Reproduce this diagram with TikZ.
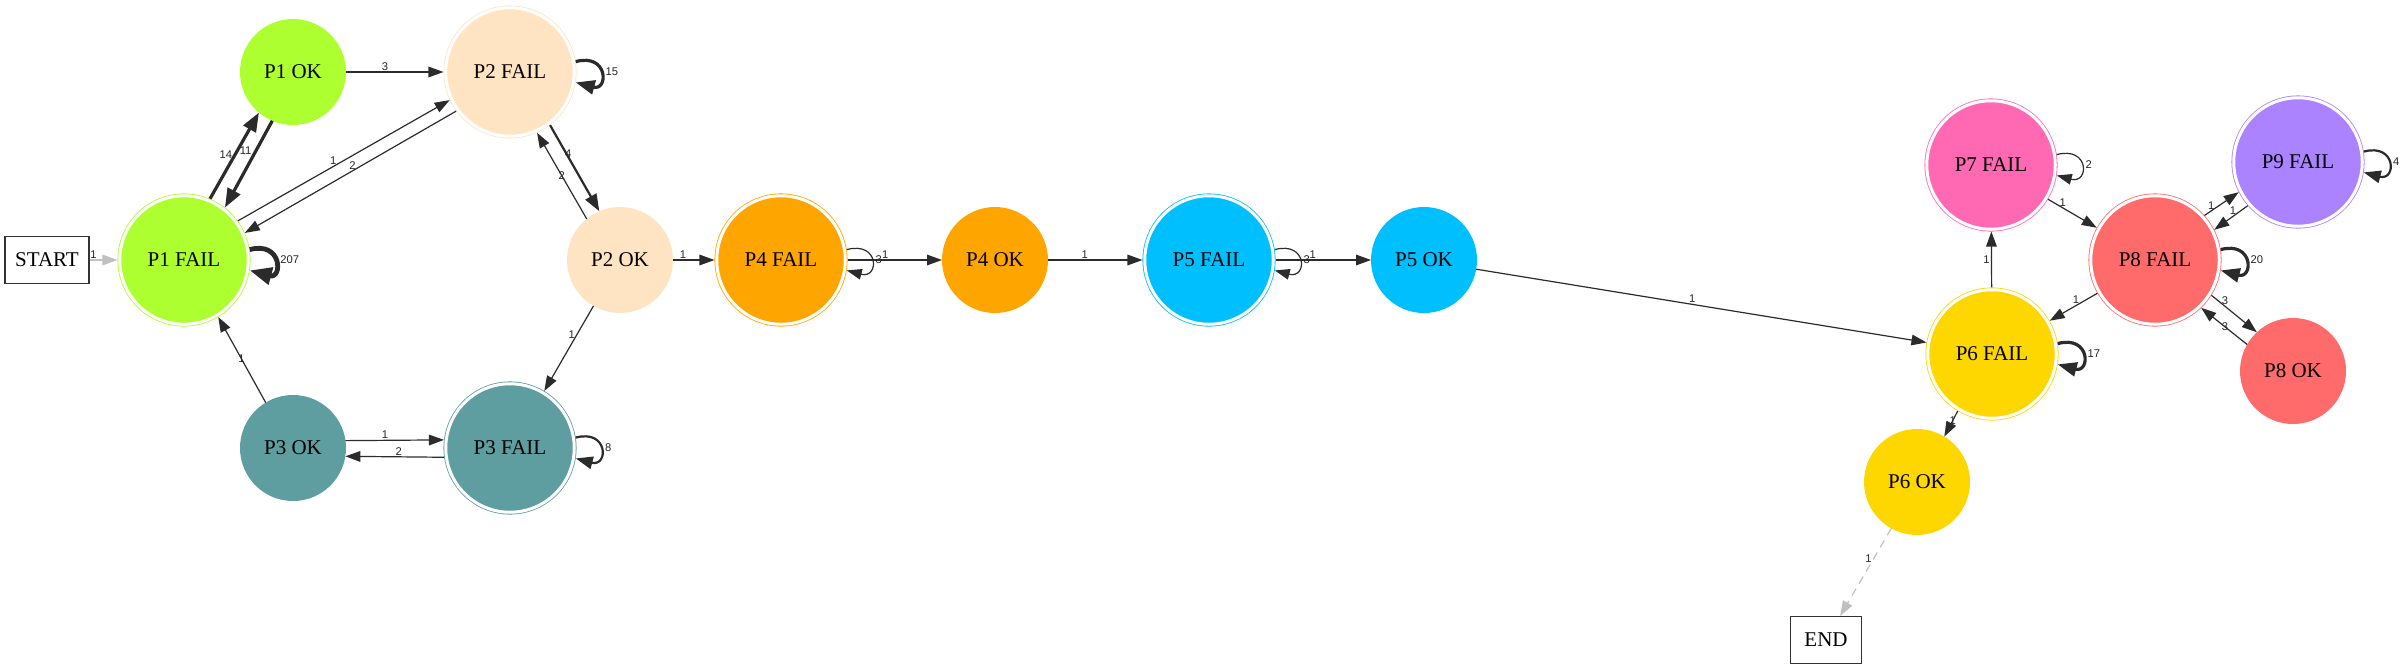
\documentclass[tikz,border=0pt]{standalone}
\usepackage{fontspec}
\setmainfont{Liberation Serif}
\newfontfamily\lblfont{Liberation Sans}
\usetikzlibrary{arrows.meta}

\definecolor{p1col}{HTML}{ADFF2F}
\definecolor{p2col}{HTML}{FFE4C4}
\definecolor{p3col}{HTML}{5F9EA0}
\definecolor{p4col}{HTML}{FFA500}
\definecolor{p5col}{HTML}{00BFFF}
\definecolor{p6col}{HTML}{FFD700}
\definecolor{p7col}{HTML}{FF69B4}
\definecolor{p8col}{HTML}{FF6A6A}
\definecolor{p9col}{HTML}{AB82FF}
\definecolor{edgecol}{HTML}{2B2B2B}
\definecolor{termcol}{HTML}{C0C0C0}

\tikzset{
	okstate/.style={circle, fill=#1, inner sep=0pt, outer sep=0pt, minimum size=53pt, font=\fontsize{10.5}{12}\selectfont},
	failstate/.style={circle, fill=#1, draw=#1, line width=0.4pt, double=white, double distance=1.5pt, inner sep=0pt, outer sep=1.15pt, minimum size=64.25pt, font=\fontsize{10.5}{12}\selectfont},
	termbox/.style={rectangle, draw=black!80, line width=0.6pt, minimum width=#1, minimum height=23.5pt, inner sep=0pt, font=\fontsize{10.5}{12}\selectfont},
	lbl/.style={font=\lblfont\fontsize{5.6}{6.5}\selectfont, text=black!85, inner sep=0.6pt},
	lightedge/.style={draw=edgecol, line width=0.6pt, -{Triangle[length=7.5pt,width=5.3pt]}},
	midedge/.style={draw=edgecol, line width=1.1pt, -{Triangle[length=8.5pt,width=6.2pt]}},
	boldedge/.style={draw=edgecol, line width=1.6pt, -{Triangle[length=9.5pt,width=7pt]}},
	heavyedge/.style={draw=edgecol, line width=2.4pt, -{Triangle[length=11pt,width=8.5pt]}},
	termedge/.style={draw=termcol, line width=0.6pt, -{Triangle[length=7.5pt,width=5.3pt]}},
}

\newcommand{\selfloop}[3] % node, count, edge style
{
	\draw[#3] (#1.9) to[out=15, in=-15, distance=17pt] node[lbl, right=1.2pt] {#2} (#1.-9);
}

\begin{document}
\begin{tikzpicture}[x=0.5pt, y=-0.5pt]
	\useasboundingbox (0,0) rectangle (2400,670);
	% states
	\node[termbox=42pt] (startbox) at (47,260) {START};
	\node[failstate=p1col] (p1fail) at (184,260) {P1 FAIL};
	\node[okstate=p1col] (p1ok) at (293,72) {P1 OK};
	\node[failstate=p2col] (p2fail) at (510,72) {P2 FAIL};
	\node[okstate=p2col] (p2ok) at (620,260) {P2 OK};
	\node[okstate=p3col] (p3ok) at (293,448) {P3 OK};
	\node[failstate=p3col] (p3fail) at (510,448) {P3 FAIL};
	\node[failstate=p4col] (p4fail) at (781,260) {P4 FAIL};
	\node[okstate=p4col] (p4ok) at (995,260) {P4 OK};
	\node[failstate=p5col] (p5fail) at (1209,260) {P5 FAIL};
	\node[okstate=p5col] (p5ok) at (1424,260) {P5 OK};
	\node[failstate=p7col] (p7fail) at (1991,165) {P7 FAIL};
	\node[failstate=p6col] (p6fail) at (1992,354) {P6 FAIL};
	\node[okstate=p6col] (p6ok) at (1917,482) {P6 OK};
	\node[termbox=35.5pt] (endbox) at (1826,640) {END};
	\node[failstate=p8col] (p8fail) at (2155,260) {P8 FAIL};
	\node[okstate=p8col] (p8ok) at (2293,371) {P8 OK};
	\node[failstate=p9col] (p9fail) at (2298,162) {P9 FAIL};

	% P1 / P2 / P3
	\draw[termedge] (startbox) -- node[lbl, pos=0.14, above] {1} (p1fail);
	\draw[boldedge] (p1fail.67) -- node[lbl, pos=0.51, left] {14} (p1ok.230);
	\draw[boldedge] (p1ok.247) -- node[lbl, pos=0.34, left=1pt] {11} (p1fail.52);
	\selfloop{p1fail}{207}{heavyedge};
	\draw[lightedge] (p1ok) -- node[lbl, pos=0.4, above] {3} (p2fail);
	\draw[lightedge] (p1fail.36) -- node[lbl, pos=0.45, above] {1} (p2fail.205);
	\draw[lightedge] (p2fail.216) -- node[lbl, pos=0.49, above] {2} (p1fail.24);
	\selfloop{p2fail}{15}{boldedge};
	\draw[midedge] (p2fail.-53) -- node[lbl, pos=0.33, xshift=1pt] {4} (p2ok.113);
	\draw[lightedge] (p2ok.129) -- node[lbl, pos=0.5] {2} (p2fail.-66);
	\draw[lightedge] (p2ok.240) -- node[lbl, pos=0.34, left] {1} (p3fail.59);
	\draw[lightedge] (p3ok.121) -- node[lbl, pos=0.51] {1} (p1fail.-59);
	\draw[lightedge] (p3ok.8) -- node[lbl, pos=0.4, above] {1} (p3fail.173);
	\draw[lightedge] (p3fail.188) -- node[lbl, pos=0.46, above] {2} (p3ok.-9);
	\selfloop{p3fail}{8}{midedge};

	% P4 / P5
	\draw[lightedge] (p2ok) -- node[lbl, pos=0.24, above] {1} (p4fail);
	\selfloop{p4fail}{3}{lightedge};
	\draw[lightedge] (p4fail) -- node[lbl, pos=0.4, above] {1} (p4ok);
	\draw[lightedge] (p4ok) -- node[lbl, pos=0.39, above] {1} (p5fail);
	\selfloop{p5fail}{3}{lightedge};
	\draw[lightedge] (p5fail) -- node[lbl, pos=0.39, above] {1} (p5ok);
	\draw[lightedge] (p5ok.-10) -- node[lbl, pos=0.48, above] {1} (p6fail.170);

	% P6 / P7 / P8 / P9
	\draw[lightedge] (p6fail) -- node[lbl, pos=0.49, left] {1} (p7fail);
	\selfloop{p7fail}{2}{lightedge};
	\draw[lightedge] (p7fail.-31) -- node[lbl, pos=0.3, above] {1} (p8fail.151);
	\draw[lightedge] (p8fail.42) -- node[lbl, pos=0.2, above] {1} (p9fail.207);
	\draw[lightedge] (p9fail.221) -- node[lbl, pos=0.44, above] {1} (p8fail.27);
	\selfloop{p9fail}{4}{midedge};
	\selfloop{p8fail}{20}{boldedge};
	\draw[lightedge] (p8fail.210) -- node[lbl, pos=0.45, above] {1} (p6fail.30);
	\draw[lightedge] (p8fail.-32) -- node[lbl, pos=0.3, above] {3} (p8ok.133);
	\draw[lightedge] (p8ok.150) -- node[lbl, pos=0.48] {3} (p8fail.-46);
	\selfloop{p6fail}{17}{boldedge};
	\draw[lightedge] (p6fail.239) -- node[lbl, pos=0.37] {1} (p6ok.59);
	\draw[termedge, dash pattern=on 4pt off 3pt] (p6ok.241) -- node[lbl, pos=0.35, left] {1} (endbox);
\end{tikzpicture}
\end{document}
